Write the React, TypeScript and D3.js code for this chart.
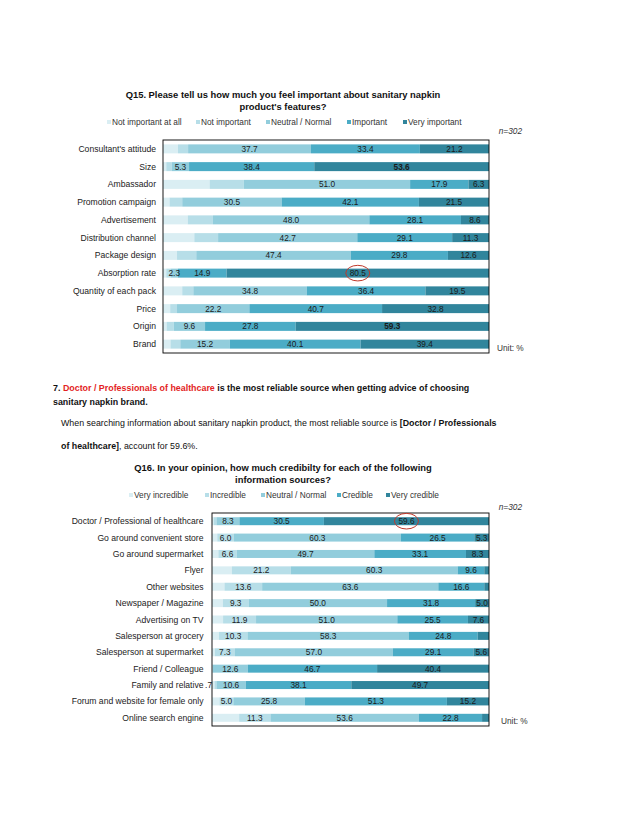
import React from "react";
import * as d3 from "d3";

// ---------- DATA ----------
const topCategories = [
  "Consultant's attitude", "Size", "Ambassador", "Promotion campaign", "Advertisement",
  "Distribution channel", "Package design", "Absorption rate", "Quantity of each pack",
  "Price", "Origin", "Brand",
];
const topSeriesNames = ["Not important at all", "Not important", "Neutral / Normal", "Important", "Very important"];
const topNotAtAll = [4.6, 1.0, 14.3, 2.0, 7.6, 9.6, 4.3, 1.0, 5.9, 2.2, 1.1, 2.3];
const topNotImportant = [3.1, 1.7, 10.5, 3.9, 7.7, 7.3, 5.9, 1.3, 3.4, 2.1, 2.2, 3.0];
const topNeutral = [37.7, 5.3, 51.0, 30.5, 48.0, 42.7, 47.4, 2.3, 34.8, 22.2, 9.6, 15.2];
const topImportant = [33.4, 38.4, 17.9, 42.1, 28.1, 29.1, 29.8, 14.9, 36.4, 40.7, 27.8, 40.1];
const topVeryImportant = [21.2, 53.6, 6.3, 21.5, 8.6, 11.3, 12.6, 80.5, 19.5, 32.8, 59.3, 39.4];
const topHighlight = { category: "Absorption rate", series: 4 };

const bottomCategories = [
  "Doctor / Professional of healthcare", "Go around convenient store", "Go around supermarket",
  "Flyer", "Other websites", "Newspaper / Magazine", "Advertising on TV", "Salesperson at grocery",
  "Salesperson at supermarket", "Friend / Colleague", "Family and relative",
  "Forum and website for female only", "Online search engine",
];
const bottomSeriesNames = ["Very incredible", "Incredible", "Neutral / Normal", "Credible", "Very credible"];
const bottomVeryIncredible = [0.6, 1.9, 2.3, 7.2, 4.5, 3.9, 4.0, 2.5, 1.0, 0.1, 0.9, 2.7, 9.8];
const bottomIncredible = [1.0, 6.0, 6.6, 21.2, 13.6, 9.3, 11.9, 10.3, 7.3, 0.2, 0.7, 5.0, 11.3];
const bottomNeutral = [8.3, 60.3, 49.7, 60.3, 63.6, 50.0, 51.0, 58.3, 57.0, 12.6, 10.6, 25.8, 53.6];
const bottomCredible = [30.5, 26.5, 33.1, 9.6, 16.6, 31.8, 25.5, 24.8, 29.1, 46.7, 38.1, 51.3, 22.8];
const bottomVeryCredible = [59.6, 5.3, 8.3, 1.7, 1.7, 5.0, 7.6, 4.1, 5.6, 40.4, 49.7, 15.2, 2.5];
const bottomHighlight = { category: "Doctor / Professional of healthcare", series: 4 };
const bottomForcedLabel = { category: "Family and relative", series: 1 };

const colors = ["#DAEEF3", "#B7DEE8", "#92CDDC", "#4BACC6", "#31859C"];
const FONT = "'Liberation Sans', Arial, Helvetica, sans-serif";

type ChartProps = {
  id: string;
  categories: string[];
  series: number[][];
  names: string[];
  titleLines: string[];
  titleY: number;
  legendY: number;
  legendX: number[];
  nY: number;
  unitX: number;
  unitY: number;
  x0: number;
  x1: number;
  y0: number;
  y1: number;
  barH: number;
  catGap: number;
  showLabel: (row: number, s: number, v: number) => boolean;
  highlight: { category: string; series: number };
  forced?: { category: string; series: number };
  boldRows?: string[];
};

function StackedChart(p: ChartProps) {
  const x = d3.scaleLinear().domain([0, 100]).range([p.x0, p.x1]).clamp(true);
  const y = d3.scaleBand().domain(p.categories).range([p.y0, p.y1]);
  const rows = p.categories.map((c, i) => {
    const vals = p.series.map((s) => s[i]);
    const cum = d3.cumsum(vals);
    return vals.map((v, s) => ({ v, s, start: cum[s] - v, end: cum[s] }));
  });
  const fmt = d3.format(".1f");
  const fmtLabel = (v: number) => fmt(v).replace(/^0\./, ".");
  const cx = (seg: { start: number; end: number }) => (x(seg.start) + x(seg.end)) / 2;
  const hRow = p.categories.indexOf(p.highlight.category);
  const hSeg = rows[hRow][p.highlight.series];
  return (
    <g fontFamily={FONT}>
      {p.titleLines.map((t, i) => (
        <text key={i} x={283} y={p.titleY + i * 11.5} textAnchor="middle" fontSize={9.4} fontWeight="bold" fill="#111">
          {t}
        </text>
      ))}
      {p.names.map((n, i) => (
        <g key={n}>
          <rect x={p.legendX[i]} y={p.legendY - 5} width={4} height={4} fill={colors[i]} />
          <text x={p.legendX[i] + 5} y={p.legendY} fontSize={8.3} fill="#333">
            {n}
          </text>
        </g>
      ))}
      <text x={522} y={p.nY} textAnchor="end" fontSize={8.3} fontStyle="italic" fill="#333">
        n=302
      </text>
      {p.categories.map((c, i) => (
        <text key={c} x={p.x0 - p.catGap} y={(y(c) as number) + y.bandwidth() / 2 + 3} textAnchor="end" fontSize={8.6} fill="#222">
          {c}
        </text>
      ))}
      {rows.map((segs, i) => {
        const c = p.categories[i];
        const yc = (y(c) as number) + y.bandwidth() / 2;
        return (
          <g key={c}>
            {segs.map((seg) => (
              <rect key={seg.s} x={x(seg.start)} y={yc - p.barH / 2} width={Math.max(0, x(seg.end) - x(seg.start))} height={p.barH} fill={colors[seg.s]} />
            ))}
            {segs.map((seg) => {
              const forced = p.forced && p.forced.category === c && p.forced.series === seg.s;
              if (!forced && !p.showLabel(i, seg.s, seg.v)) return null;
              const bold = p.boldRows && p.boldRows.includes(c) && seg.s === 4;
              return (
                <text
                  key={"l" + seg.s}
                  x={forced ? p.x0 : cx(seg)}
                  y={yc + 3}
                  textAnchor={forced ? "end" : "middle"}
                  fontSize={8.3}
                  fontWeight={bold ? "bold" : "normal"}
                  fill="#1a1a1a"
                >
                  {fmtLabel(seg.v)}
                </text>
              );
            })}
          </g>
        );
      })}
      <rect x={p.x0} y={p.y0} width={p.x1 - p.x0} height={p.y1 - p.y0} fill="none" stroke="#000" strokeWidth={0.9} />
      <ellipse
        cx={cx(hSeg)}
        cy={(y(p.highlight.category) as number) + y.bandwidth() / 2}
        rx={12}
        ry={7.8}
        fill="none"
        stroke="#c0392b"
        strokeWidth={1}
      />
      <text x={p.unitX} y={p.unitY} fontSize={8.3} fill="#333">
        Unit: %
      </text>
    </g>
  );
}

export default function App() {
  return (
    <svg width={638} height={826} style={{ position: "absolute", left: 0, top: 0, background: "#fff" }}>
      <rect width={638} height={826} fill="#fff" />
      <StackedChart
        id="top"
        categories={topCategories}
        series={[topNotAtAll, topNotImportant, topNeutral, topImportant, topVeryImportant]}
        names={topSeriesNames}
        titleLines={["Q15. Please tell us how much you feel important about sanitary napkin", "product's features?"]}
        titleY={98}
        legendY={125}
        legendX={[107, 196, 266, 347, 403]}
        nY={134}
        unitX={497}
        unitY={351}
        x0={163}
        x1={489}
        y0={140}
        y1={353}
        barH={9}
        catGap={7}
        showLabel={(r, s, v) => s >= 2 && v >= 2}
        highlight={topHighlight}
        boldRows={["Size", "Origin"]}
      />
      <g fontFamily={FONT}>
        <text x={53} y={391} fontSize={8.9} fontWeight="bold" fill="#111">
          7. <tspan fill="#e31e24">Doctor / Professionals of healthcare</tspan> is the most reliable source when getting advice of choosing
        </text>
        <text x={53} y={405} fontSize={8.9} fontWeight="bold" fill="#111">
          sanitary napkin brand.
        </text>
        <text x={61} y={426} fontSize={8.85} fill="#111">
          When searching information about sanitary napkin product, the most reliable source is{" "}
          <tspan fontWeight="bold">[Doctor / Professionals</tspan>
        </text>
        <text x={61} y={449} fontSize={8.85} fill="#111">
          <tspan fontWeight="bold">of healthcare]</tspan>, account for 59.6%.
        </text>
      </g>
      <StackedChart
        id="bot"
        categories={bottomCategories}
        series={[bottomVeryIncredible, bottomIncredible, bottomNeutral, bottomCredible, bottomVeryCredible]}
        names={bottomSeriesNames}
        titleLines={["Q16. In your opinion, how much credibilty for each of the following", "information sources?"]}
        titleY={471}
        legendY={498}
        legendX={[129, 205, 261, 337, 386]}
        nY={510}
        unitX={501}
        unitY={724}
        x0={212}
        x1={489}
        y0={513}
        y1={726}
        barH={8}
        catGap={8.5}
        showLabel={(r, s, v) => s >= 1 && v >= 5}
        highlight={bottomHighlight}
        forced={bottomForcedLabel}
      />
    </svg>
  );
}
